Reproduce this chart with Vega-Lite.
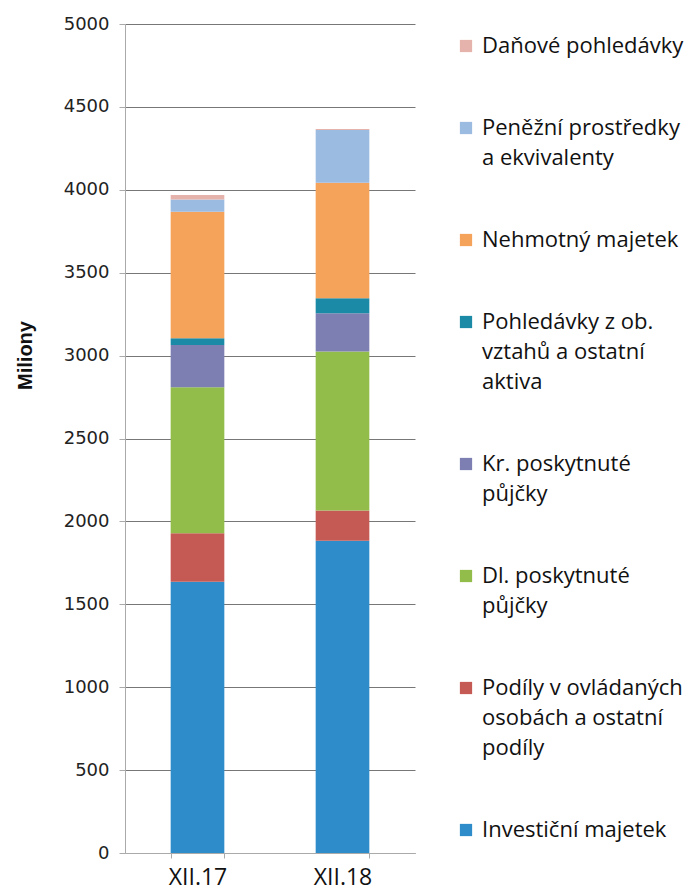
{
  "$schema": "https://vega.github.io/schema/vega-lite/v6.json",
  "autosize": "none",
  "width": 290,
  "height": 829,
  "padding": {"left": 125, "top": 24, "right": 276, "bottom": 43},
  "background": "white",
  "data": {
    "values": [
      {"obdobi": "XII.17", "polozka": "Investiční majetek", "poradi": 1, "hodnota": 1636},
      {"obdobi": "XII.17", "polozka": "Podíly v ovládaných\nosobách a ostatní\npodíly", "poradi": 2, "hodnota": 292},
      {"obdobi": "XII.17", "polozka": "Dl. poskytnuté\npůjčky", "poradi": 3, "hodnota": 881},
      {"obdobi": "XII.17", "polozka": "Kr. poskytnuté\npůjčky", "poradi": 4, "hodnota": 255},
      {"obdobi": "XII.17", "polozka": "Pohledávky z ob.\nvztahů a ostatní\naktiva", "poradi": 5, "hodnota": 40},
      {"obdobi": "XII.17", "polozka": "Nehmotný majetek", "poradi": 6, "hodnota": 764},
      {"obdobi": "XII.17", "polozka": "Peněžní prostředky\na ekvivalenty", "poradi": 7, "hodnota": 74},
      {"obdobi": "XII.17", "polozka": "Daňové pohledávky", "poradi": 8, "hodnota": 27},
      {"obdobi": "XII.18", "polozka": "Investiční majetek", "poradi": 1, "hodnota": 1884},
      {"obdobi": "XII.18", "polozka": "Podíly v ovládaných\nosobách a ostatní\npodíly", "poradi": 2, "hodnota": 181},
      {"obdobi": "XII.18", "polozka": "Dl. poskytnuté\npůjčky", "poradi": 3, "hodnota": 959},
      {"obdobi": "XII.18", "polozka": "Kr. poskytnuté\npůjčky", "poradi": 4, "hodnota": 231},
      {"obdobi": "XII.18", "polozka": "Pohledávky z ob.\nvztahů a ostatní\naktiva", "poradi": 5, "hodnota": 91},
      {"obdobi": "XII.18", "polozka": "Nehmotný majetek", "poradi": 6, "hodnota": 697},
      {"obdobi": "XII.18", "polozka": "Peněžní prostředky\na ekvivalenty", "poradi": 7, "hodnota": 318},
      {"obdobi": "XII.18", "polozka": "Daňové pohledávky", "poradi": 8, "hodnota": 5}
    ]
  },
  "mark": {"type": "bar"},
  "encoding": {
    "x": {
      "field": "obdobi",
      "type": "nominal",
      "scale": {"paddingInner": 0.63, "paddingOuter": 0.315},
      "axis": {
        "title": null,
        "labelAngle": 0,
        "labelFont": "Open Sans",
        "labelFontSize": 23,
        "labelColor": "#111111",
        "labelPadding": 8,
        "tickBand": "extent",
        "tickColor": "#aaaaaa",
        "tickSize": 5,
        "domainColor": "#aaaaaa",
        "grid": false
      }
    },
    "y": {
      "field": "hodnota",
      "type": "quantitative",
      "stack": "zero",
      "scale": {"domain": [0, 5000], "nice": false},
      "axis": {
        "title": "Miliony",
        "titleFont": "Liberation Sans",
        "titleFontSize": 20,
        "titleFontWeight": "bold",
        "titleColor": "#111111",
        "titlePadding": 28,
        "titleY": 331,
        "values": [0, 500, 1000, 1500, 2000, 2500, 3000, 3500, 4000, 4500, 5000],
        "format": "d",
        "labelFont": "DejaVu Sans",
        "labelFontSize": 18,
        "labelColor": "#222222",
        "labelPadding": 10,
        "tickColor": "#aaaaaa",
        "tickSize": 6,
        "domainColor": "#aaaaaa",
        "gridColor": "#777777",
        "gridWidth": 1
      }
    },
    "color": {
      "field": "polozka",
      "type": "nominal",
      "scale": {
        "domain": [
          "Daňové pohledávky",
          "Peněžní prostředky\na ekvivalenty",
          "Nehmotný majetek",
          "Pohledávky z ob.\nvztahů a ostatní\naktiva",
          "Kr. poskytnuté\npůjčky",
          "Dl. poskytnuté\npůjčky",
          "Podíly v ovládaných\nosobách a ostatní\npodíly",
          "Investiční majetek"
        ],
        "range": ["#e5b3ab", "#9bbbe0", "#f5a25a", "#1b8aa6", "#7d7fb3", "#93bd4b", "#c55a55", "#2f8ccb"]
      },
      "legend": {
        "title": null,
        "orient": "none",
        "legendX": 330,
        "legendY": 11,
        "symbolType": "square",
        "symbolSize": 150,
        "symbolStrokeWidth": 0,
        "labelFont": "Open Sans",
        "labelFontSize": 22,
        "labelColor": "#111111",
        "labelLimit": 300,
        "labelOffset": 5,
        "rowPadding": 60,
        "labelExpr": "split(datum.label, '\\n')",
        "encode": {"labels": {"update": {"lineHeight": {"value": 30}}}}
      }
    },
    "order": {"field": "poradi", "type": "quantitative", "sort": "ascending"}
  },
  "config": {
    "view": {"stroke": null}
  }
}
